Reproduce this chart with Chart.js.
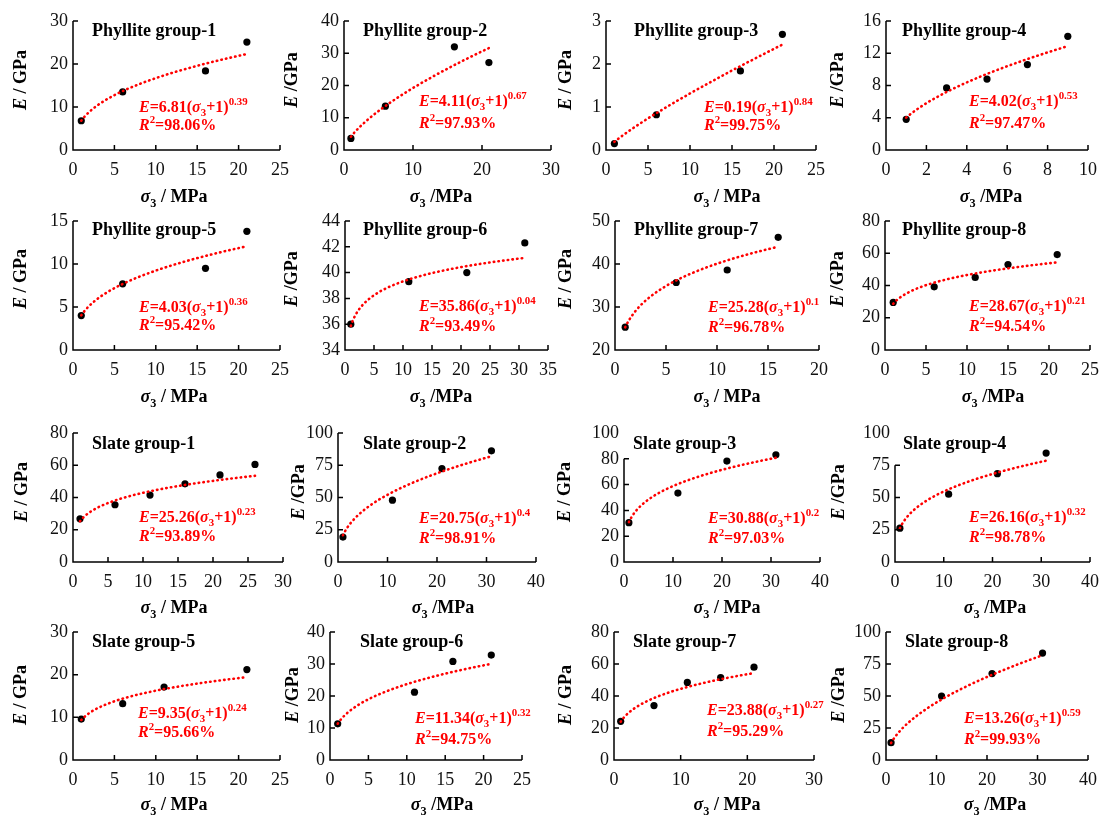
<!DOCTYPE html>
<html><head><meta charset="utf-8">
<script src="https://cdn.jsdelivr.net/npm/chart.js@4.4.1/dist/chart.umd.min.js"></script>
<style>
html,body{margin:0;padding:0;background:#fff;}
#wrap{position:relative;width:1102px;height:819px;overflow:hidden;background:#fff;}
canvas{position:absolute;}
</style></head><body><div id="wrap"></div>
<script>
// ---------------- DATA ----------------
const titles = ['Phyllite group-1','Phyllite group-2','Phyllite group-3','Phyllite group-4',
  'Phyllite group-5','Phyllite group-6','Phyllite group-7','Phyllite group-8',
  'Slate group-1','Slate group-2','Slate group-3','Slate group-4',
  'Slate group-5','Slate group-6','Slate group-7','Slate group-8'];
const xValues = [
  [1,6,16,21],[1,6,16,21],[1,6,16,21],[1,3,5,7,9],
  [1,6,16,21],[1,11,21,31],[1,6,11,16],[1,6,11,15,21],
  [1,6,11,16,21,26],[1,11,21,31],[1,11,21,31],[1,11,21,31],
  [1,6,11,21],[1,11,16,21],[1,6,11,16,21],[1,11,21,31]
];
const yValues = [
  [6.8,13.5,18.4,25.1],[3.6,13.6,32,27.1],[0.15,0.82,1.84,2.69],[3.8,7.7,8.8,10.6,14.1],
  [4.0,7.7,9.5,13.8],[36.0,39.3,40.0,42.3],[25.3,35.7,38.6,46.2],[29.5,39.2,45,53,59.2],
  [26.8,35.5,41.5,48.5,54,60.5],[19.3,47.9,72.4,86.2],[30.5,53.4,78.2,83.1],[26.2,52.6,68.5,84.4],
  [9.6,13.2,17.1,21.2],[11.3,21.2,30.8,32.8],[24.2,34,48.5,51.5,58],[13.5,50,67.5,83.5]
];
const xMax  = [25,30,25,10, 25,35,20,25, 30,40,40,40, 25,25,30,40];
const xStep = [5,10,5,2, 5,5,5,5, 5,10,10,10, 5,5,10,10];
const yMin  = [0,0,0,0, 0,34,20,0, 0,0,0,0, 0,0,0,0];
const yMax  = [30,40,3,16, 15,44,50,80, 80,100,100,100, 30,40,80,100];
const yStep = [10,10,1,4, 5,2,10,20, 20,25,20,25, 10,10,20,25];
const yAxisEnd = [30,40,3,16, 15,44,50,80, 80,100,80,75, 30,40,80,100];
// trend-line coefficients E = a * x^b
const fitA = [6.81,4.11,0.19,4.02, 4.03,35.86,25.28,28.67, 25.26,20.75,30.88,26.16, 9.35,11.34,23.88,13.26];
const fitB = [0.39,0.67,0.84,0.53, 0.36,0.04,0.2,0.21, 0.23,0.4,0.28,0.32, 0.24,0.32,0.27,0.53];
// equation labels
const eqA = ['6.81','4.11','0.19','4.02','4.03','35.86','25.28','28.67','25.26','20.75','30.88','26.16','9.35','11.34','23.88','13.26'];
const eqB = ['0.39','0.67','0.84','0.53','0.36','0.04','0.1','0.21','0.23','0.4','0.2','0.32','0.24','0.32','0.27','0.59'];
const r2Labels = ['98.06%','97.93%','99.75%','97.47%','95.42%','93.49%','96.78%','94.54%','93.89%','98.91%','97.03%','98.78%','95.66%','94.75%','95.29%','99.93%'];
const yUnitSep = [' / ',' /',' / ',' /',' / ',' /',' / ',' /',' / ',' /',' / ',' /',' / ',' /',' / ',' /'];
const xUnitSep = [' / ',' /',' / ',' /',' / ',' /',' / ',' /',' / ',' /',' / ',' /',' / ',' /',' / ',' /'];

// ---------------- LAYOUT (page px) ----------------
const boxes = [ // plot area L,T,R,B
  [73,21,280,150],[344,21,551,150],[606,21,816,150],[886,21,1088,150],
  [73,221,280,350],[345,221,548,350],[615,221,819,350],[885,221,1090,350],
  [73,433,283,562],[338,433,536,562],[624,433,820,562],[895,433,1090,562],
  [73,632,280,760],[330,632,522,760],[614,632,814,760],[886,632,1088,760]
];
const titlePos = [ // left x, baseline y
  [92,36],[363,36],[634,36],[902,36],
  [92,235],[363,235],[634,235],[902,235],
  [92,449],[363,449],[633,449],[903,449],
  [92,647],[360,647],[633,647],[905,647]
];
const eqPos = [ // left x, baseline eq, baseline R2
  [139,112,130],[419,106,128],[704,112,130],[969,106,128],
  [139,312,330],[419,311,331],[708,312,332],[969,311,331],
  [139,522,541],[419,523,543],[708,523,543],[969,522,542],
  [138,718,737],[415,723,744],[707,715,736],[964,723,744]
];
const xTitlePos = [ // center x, baseline y
  [174,202],[441,202],[727,202],[991,202],
  [174,402],[441,402],[727,402],[993,402],
  [174,613],[443,613],[727,613],[995,613],
  [174,810],[442,810],[727,810],[995,810]
];
const yTitlePos = [ // center x, center y
  [20,80],[291,80],[565,80],[837,80],
  [20,279],[291,279],[565,279],[837,279],
  [21,492],[298,492],[564,492],[838,492],
  [20,695],[292,695],[565,695],[838,695]
];

const FONT = "'Liberation Serif','Times New Roman',serif";
const PAD_L = 90, PAD_T = 25, PAD_R = 25, X_H = 65;

function fnt(size, italic){ return (italic?'italic ':'') + 'bold ' + size + 'px ' + FONT; }
function richWidth(ctx, parts, size){
  let w = 0;
  for (const [t, st] of parts){
    const small = st.startsWith('sub') || st.startsWith('sup');
    ctx.font = fnt(small ? size*0.68 : size, st.includes('i'));
    w += ctx.measureText(t).width;
  }
  return w;
}
function drawRich(ctx, parts, x, y, size){
  let cx = x;
  for (const [t, st] of parts){
    let s = size, dy = 0;
    if (st.startsWith('sub')) { s = size*0.68; dy = size*0.28; }
    if (st.startsWith('sup')) { s = size*0.68; dy = -size*0.42; }
    ctx.font = fnt(s, st.includes('i'));
    ctx.fillText(t, cx, y + dy);
    cx += ctx.measureText(t).width;
  }
}

const wrap = document.getElementById('wrap');
for (let i = 0; i < 16; i++){
  const [L,T,R,B] = boxes[i];
  const cl = L - PAD_L, ct = T - PAD_T;
  const cw = (R - L) + PAD_L + PAD_R, ch = (B - T) + PAD_T + X_H;
  const cv = document.createElement('canvas');
  cv.width = cw; cv.height = ch;
  cv.style.left = cl + 'px'; cv.style.top = ct + 'px';
  cv.style.width = cw + 'px'; cv.style.height = ch + 'px';
  wrap.appendChild(cv);

  const pts = xValues[i].map((x,k) => ({x, y: yValues[i][k]}));
  const xs = xValues[i], x0 = xs[0], x1 = xs[xs.length-1];
  const fit = [];
  for (let k = 0; k <= 80; k++){ const x = x0 + (x1 - x0)*k/80; fit.push({x, y: fitA[i]*Math.pow(x, fitB[i])}); }

  const panelPlugin = {
    id: 'panel' + i,
    afterDraw(chart){
      const ctx = chart.ctx, xs = chart.scales.x, ys = chart.scales.y;
      const ca = chart.chartArea;
      ctx.save();
      ctx.strokeStyle = '#000'; ctx.lineWidth = 1.5; ctx.lineCap = 'butt';
      // axes
      const yb = ys.getPixelForValue(yMin[i]), yt = ys.getPixelForValue(yAxisEnd[i]);
      ctx.beginPath();
      ctx.moveTo(ca.left, yt); ctx.lineTo(ca.left, yb + 0.75);
      ctx.moveTo(ca.left - 0.75, yb); ctx.lineTo(ca.right, yb);
      ctx.stroke();
      // inward tick marks
      ctx.beginPath();
      xs.ticks.forEach(t => { if (t.value > 0){ const p = xs.getPixelForValue(t.value); ctx.moveTo(p, yb); ctx.lineTo(p, yb - 5); } });
      ys.ticks.forEach(t => { if (t.value > yMin[i] && t.value <= yAxisEnd[i]){ const p = ys.getPixelForValue(t.value); ctx.moveTo(ca.left, p); ctx.lineTo(ca.left + 5, p); } });
      ctx.stroke();
      // title
      ctx.fillStyle = '#000'; ctx.textBaseline = 'alphabetic'; ctx.textAlign = 'left';
      ctx.font = fnt(18, false);
      ctx.fillText(titles[i], titlePos[i][0] - cl, titlePos[i][1] - ct);
      // x title
      const xt = [['σ','i'],['3','sub'],[xUnitSep[i] + 'MPa','']];
      const xw = richWidth(ctx, xt, 18);
      drawRich(ctx, xt, xTitlePos[i][0] - cl - xw/2, xTitlePos[i][1] - ct, 18);
      // y title
      const yt2 = [['E','i'],[yUnitSep[i] + 'GPa','']];
      const yw = richWidth(ctx, yt2, 18);
      ctx.save();
      ctx.translate(yTitlePos[i][0] - cl, yTitlePos[i][1] - ct);
      ctx.rotate(-Math.PI/2);
      drawRich(ctx, yt2, -yw/2, 18*0.33, 18);
      ctx.restore();
      // equation
      ctx.fillStyle = '#ff0000';
      drawRich(ctx, [['E','i'],['=' + eqA[i] + '(',''],['σ','i'],['3','sub'],['+1)',''],[eqB[i],'sup']], eqPos[i][0] - cl, eqPos[i][1] - ct, 16);
      drawRich(ctx, [['R','i'],['2','sup'],['=' + r2Labels[i],'']], eqPos[i][0] - cl, eqPos[i][2] - ct, 16);
      ctx.restore();
    }
  };

  new Chart(cv, {
    type: 'scatter',
    data: { datasets: [
      { data: fit, showLine: true, borderColor: '#ff0000', borderWidth: 2.6, borderDash: [0.5, 4.2],
        borderCapStyle: 'round', pointRadius: 0, fill: false, order: 0 },
      { data: pts, backgroundColor: '#000', borderColor: '#000', borderWidth: 0, pointRadius: 3.6, order: 1 }
    ]},
    options: {
      responsive: false, animation: false, devicePixelRatio: 1,
      layout: { padding: { left: 30, top: PAD_T, right: PAD_R, bottom: 0 } },
      plugins: { legend: { display: false }, tooltip: { enabled: false }, title: { display: false } },
      scales: {
        x: { type: 'linear', min: 0, max: xMax[i],
          ticks: { stepSize: xStep[i], autoSkip: false, maxRotation: 0, color: '#111', padding: 9,
            font: { family: FONT, size: 18 } },
          grid: { display: false, drawTicks: false }, border: { display: false },
          afterFit: s => { s.height = X_H; } },
        y: { type: 'linear', min: yMin[i], max: yMax[i],
          ticks: { stepSize: yStep[i], autoSkip: false, color: '#111', padding: 5,
            font: { family: FONT, size: 18 } },
          grid: { display: false, drawTicks: false }, border: { display: false },
          afterFit: s => { s.width = 60; } }
      }
    },
    plugins: [panelPlugin]
  });
}
</script>
</body></html>
